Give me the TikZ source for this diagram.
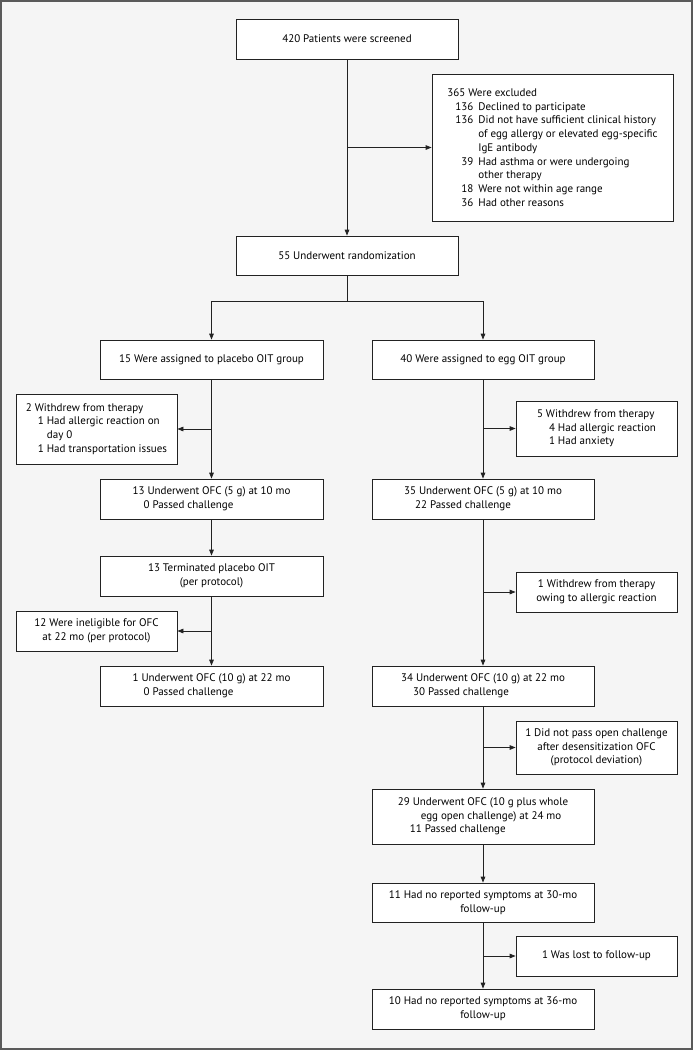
\documentclass[tikz,border=0pt]{standalone}
\usepackage{fontspec}
\setmainfont{PT Sans}
\usetikzlibrary{arrows.meta}
\definecolor{bg}{HTML}{F5F5F5}
\definecolor{frame}{HTML}{5A5A5A}
\definecolor{ln}{HTML}{222222}
\tikzset{
  box/.style={draw=ln, line width=0.8pt, fill=white, inner sep=0pt, font=\fontsize{11}{13.7}\selectfont},
  cbox/.style={box, align=center},
  lbox/.style={box, align=left},
  conn/.style={draw=ln, line width=0.8pt},
  arr/.style={conn, -{Triangle[length=6pt,width=4.6pt]}},
}
\newcommand\nbx[1]{\makebox[16pt][r]{#1}\hspace{5pt}}
\begin{document}
\begin{tikzpicture}[x=1pt,y=-1pt]
\useasboundingbox (0,0) rectangle (693,1050);
\fill[bg] (0,0) rectangle (693,1050);
\draw[frame, line width=2pt] (1,1) rectangle (692,1049);

\node[cbox, minimum width=222pt, minimum height=40pt] (s) at (347,39) {420 Patients were screened};
\node[lbox, minimum width=241pt, minimum height=147pt] (ex) at (552.5,147.5) {%
365 Were excluded\\
\hspace*{10pt}\nbx{136}Declined to participate\\
\hspace*{10pt}\nbx{136}Did not have sufficient clinical history\\
\hspace*{31pt}of egg allergy or elevated egg-specific\\
\hspace*{31pt}IgE antibody\\
\hspace*{10pt}\nbx{39}Had asthma or were undergoing\\
\hspace*{31pt}other therapy\\
\hspace*{10pt}\nbx{18}Were not within age range\\
\hspace*{10pt}\nbx{36}Had other reasons};
\node[cbox, minimum width=222pt, minimum height=39pt] (r) at (347,255.5) {55 Underwent randomization};

\node[cbox, minimum width=223pt, minimum height=39pt] (pl) at (211.5,359.5) {15 Were assigned to placebo OIT group};
\node[cbox, minimum width=222pt, minimum height=39pt] (eg) at (483,359.5) {40 Were assigned to egg OIT group};

\node[lbox, minimum width=161pt, minimum height=70pt] (w1) at (96.5,429) {%
2 Withdrew from therapy\\
\hspace*{12pt}1 Had allergic reaction on\\
\hspace*{21pt}day 0\\
\hspace*{12pt}1 Had transportation issues};
\node[lbox, minimum width=161pt, minimum height=55pt] (w2) at (596.5,428.5) {%
5 Withdrew from therapy\\
\hspace*{12pt}4 Had allergic reaction\\
\hspace*{12pt}1 Had anxiety};

\node[lbox, minimum width=223pt, minimum height=40pt] (o1l) at (211.5,499) {%
13 Underwent OFC (5 g) at 10 mo\\
\hspace*{11pt}0 Passed challenge};
\node[lbox, minimum width=222pt, minimum height=40pt] (o1r) at (483,499) {%
35 Underwent OFC (5 g) at 10 mo\\
\hspace*{11pt}22 Passed challenge};

\node[cbox, minimum width=223pt, minimum height=40pt] (term) at (211.5,576) {13 Terminated placebo OIT\\(per protocol)};
\node[cbox, minimum width=161pt, minimum height=40pt] (w3) at (596.5,592) {1 Withdrew from therapy\\owing to allergic reaction};
\node[cbox, minimum width=161pt, minimum height=40pt] (inel) at (96.5,631) {12 Were ineligible for OFC\\at 22 mo (per protocol)};

\node[lbox, minimum width=223pt, minimum height=40pt] (o2l) at (211.5,686) {%
1 Underwent OFC (10 g) at 22 mo\\
\hspace*{11pt}0 Passed challenge};
\node[lbox, minimum width=222pt, minimum height=40pt] (o2r) at (483,686) {%
34 Underwent OFC (10 g) at 22 mo\\
\hspace*{12pt}30 Passed challenge};

\node[cbox, minimum width=161pt, minimum height=53pt] (dnp) at (596.5,747.5) {1 Did not pass open challenge\\after desensitization OFC\\(protocol deviation)};

\node[lbox, minimum width=222pt, minimum height=55pt] (o3) at (483,816.5) {%
29 Underwent OFC (10 g plus whole\\
\hspace*{23pt}egg open challenge) at 24 mo\\
\hspace*{12pt}11 Passed challenge};

\node[cbox, minimum width=222pt, minimum height=39pt] (f30) at (483,902.5) {11 Had no reported symptoms at 30-mo\\follow-up};
\node[cbox, minimum width=161pt, minimum height=40pt] (lost) at (596.5,956) {1 Was lost to follow-up};
\node[cbox, minimum width=222pt, minimum height=40pt] (f36) at (483,1009) {10 Had no reported symptoms at 36-mo\\follow-up};

\coordinate (split) at (347,301);

\draw[arr] (s) -- (r);
\draw[arr] (s.south |- ex.west) -- (ex.west);
\draw[conn] (r.south) -- (split);
\draw[arr] (split) -| (pl.north);
\draw[arr] (split) -| (eg.north);

\draw[arr] (pl) -- (o1l);
\draw[arr] (pl.south |- w1.east) -- (w1.east);
\draw[arr] (o1l) -- (term);
\draw[arr] (term) -- (o2l);
\draw[arr] (term.south |- inel.east) -- (inel.east);

\draw[arr] (eg) -- (o1r);
\draw[arr] (eg.south |- w2.west) -- (w2.west);
\draw[arr] (o1r) -- (o2r);
\draw[arr] (o1r.south |- w3.west) -- (w3.west);
\draw[arr] (o2r) -- (o3);
\draw[arr] (o2r.south |- dnp.west) -- (dnp.west);
\draw[arr] (o3) -- (f30);
\draw[arr] (f30) -- (f36);
\draw[arr] (f30.south |- lost.west) -- (lost.west);
\end{tikzpicture}
\end{document}
